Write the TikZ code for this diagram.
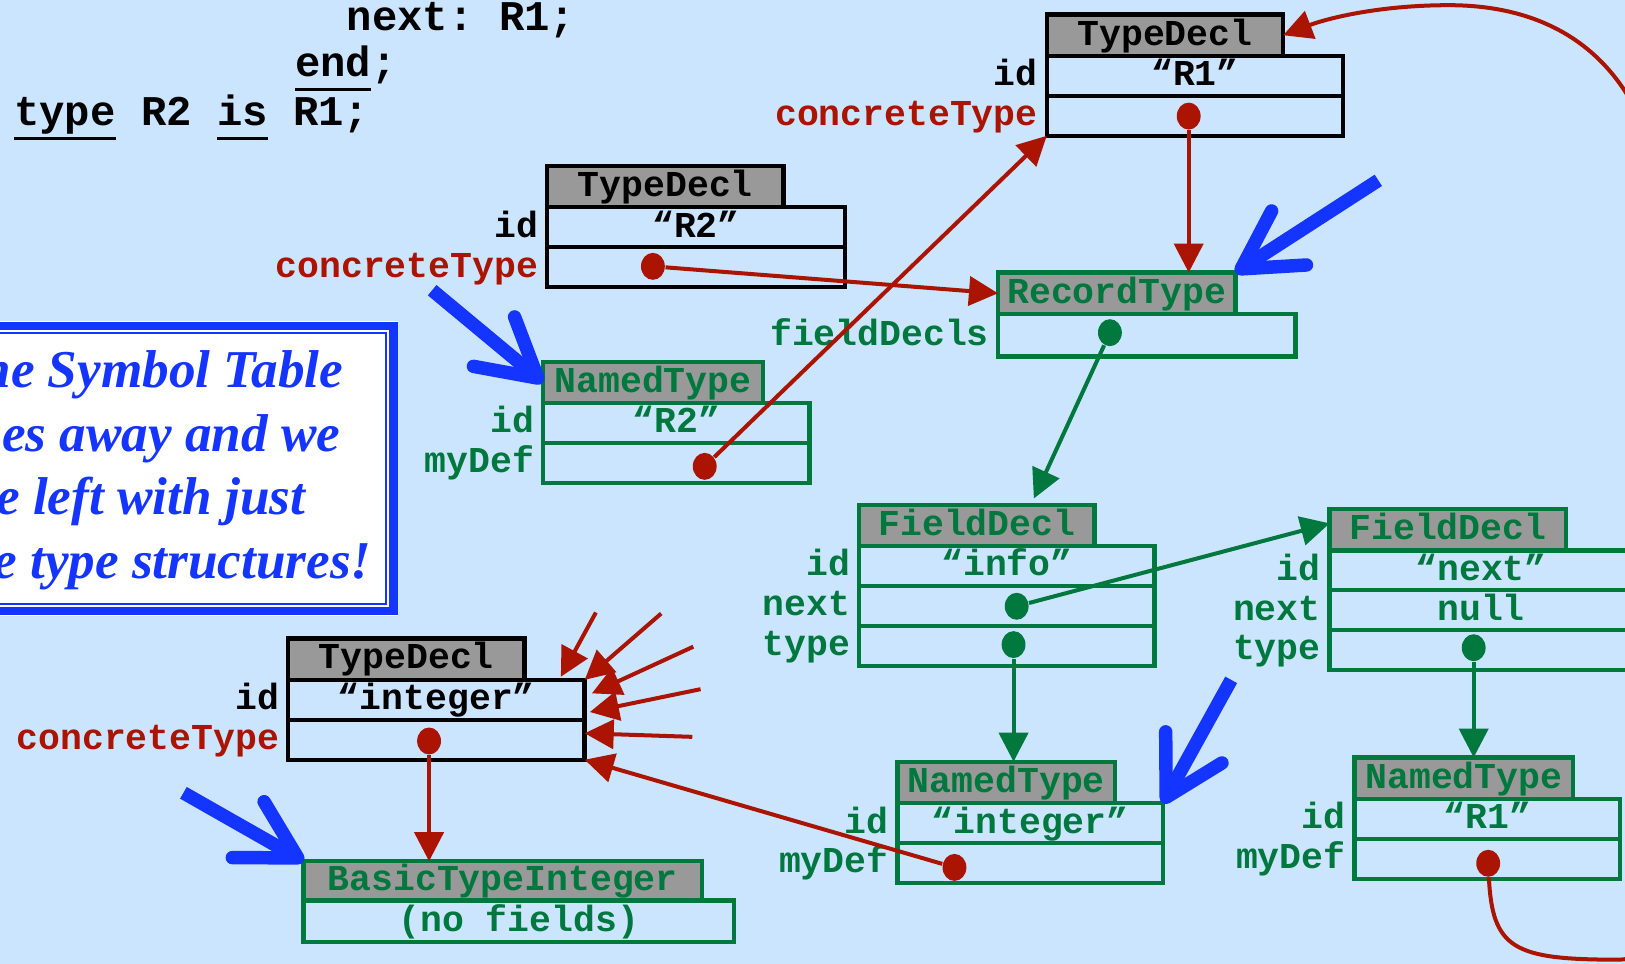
\documentclass[tikz,border=0pt]{standalone}
\usepackage{fontspec}
\setmainfont{Liberation Serif}
\setmonofont{Liberation Mono}
\usepackage{tikz}
\usetikzlibrary{arrows.meta,positioning,calc,shapes.geometric}

\definecolor{slidebg}{RGB}{204,229,255}
\definecolor{hdrgray}{RGB}{153,153,153}
\definecolor{linkred}{RGB}{170,20,0}
\definecolor{treegreen}{RGB}{0,120,62}
\definecolor{callblue}{RGB}{20,52,255}

\newcommand{\boxfont}{\ttfamily\bfseries\fontsize{10}{12}\selectfont}
\newcommand{\codefont}{\ttfamily\bfseries\fontsize{11.6}{13.5}\selectfont}
\newcommand{\notefont}{\rmfamily\bfseries\itshape\fontsize{14.6}{17.5}\selectfont}
\newcommand{\kw}[1]{\setbox0\hbox{#1}\rlap{\rule[-4pt]{\wd0}{0.9pt}}\box0\relax}

\begin{document}
\begin{tikzpicture}[
  x=0.01cm, y=-0.01cm,
  every node/.style={font=\boxfont, text height=7.4pt, text depth=2pt},
  hdr/.style={rectangle, draw=black, fill=hdrgray, line width=1.2pt, anchor=north west, minimum height=0.40cm, inner sep=0pt, outer sep=0pt},
  fld/.style={rectangle, draw=black, line width=1.2pt, anchor=north west, minimum height=0.385cm, inner sep=0pt, outer sep=0pt},
  ghdr/.style={hdr, draw=treegreen, text=treegreen},
  gfld/.style={fld, draw=treegreen, text=treegreen},
  lbl/.style={inner sep=0pt},
  glbl/.style={lbl, text=treegreen},
  rlbl/.style={lbl, text=linkred},
  rdot/.style={ellipse, fill=linkred, minimum width=0.23cm, minimum height=0.26cm, inner sep=0pt, text height=0pt, text depth=0pt},
  gdot/.style={rdot, fill=treegreen},
  redarr/.style={draw=linkred, line width=1.1pt, -{Triangle[length=0.28cm, width=0.28cm]}},
  greenarr/.style={redarr, draw=treegreen},
  bluearr/.style={draw=callblue, line width=0.13cm, -{Straight Barb[round, length=0.55cm, width=0.62cm]}},
  code/.style={font=\codefont, anchor=base west, inner sep=0pt},
  note/.style={font=\notefont, text=callblue, anchor=base west, inner sep=0pt}
]
  \useasboundingbox (0,0) rectangle (1568,930);
  \clip (0,0) rectangle (1568,930);
  \fill[slidebg] (0,0) rectangle (1568,930);

  % source text
  \node[code] (codea) at (334,29) {next: R1;};
  \node[code] (codeb) at (284,74) {\kw{end};};
  \node[code] (codec) at (13,121.5) {\kw{type} R2 \kw{is} R1;};

  % callout
  \fill[white] (-100,310) rectangle (384,594);
  \draw[callblue, line width=0.085cm] (-100,314.5) rectangle (380,589.5);
  \draw[callblue, line width=0.02cm] (-100,321) rectangle (372.5,582.5);
  \foreach \txt [count=\i] in {The Symbol Table, goes away and we, are left with just, the type structures!}
    \node[note] (note\i) at (-50,{374+61.3*(\i-1)}) {\txt};

  % TypeDecl R1
  \node[hdr, minimum width=2.28cm] (tdr1) at (1010,14) {TypeDecl};
  \node[fld, minimum width=2.86cm] (tdr1id) at (tdr1.south west) {“R1”};
  \node[fld, minimum width=2.86cm] (tdr1ct) at (tdr1id.south west) {};
  \node[lbl, left=2.3pt of tdr1id] {id};
  \node[rlbl, left=2.3pt of tdr1ct] {concreteType};

  % TypeDecl R2
  \node[hdr, minimum width=2.28cm] (tdr2) at (528,160) {TypeDecl};
  \node[fld, minimum width=2.87cm] (tdr2id) at (tdr2.south west) {“R2”};
  \node[fld, minimum width=2.87cm] (tdr2ct) at (tdr2id.south west) {};
  \node[lbl, left=2.3pt of tdr2id] {id};
  \node[rlbl, left=2.3pt of tdr2ct] {concreteType};

  % RecordType
  \node[ghdr, minimum width=2.29cm] (rec) at (963,263) {RecordType};
  \node[gfld, minimum width=2.87cm, minimum height=0.41cm] (recfd) at (rec.south west) {};
  \node[glbl, left=2.3pt of recfd] {fieldDecls};

  % NamedType R2
  \node[ghdr, minimum width=2.12cm] (nt2) at (524,349) {NamedType};
  \node[gfld, minimum width=2.57cm] (nt2id) at (nt2.south west) {“R2”};
  \node[gfld, minimum width=2.57cm] (nt2def) at (nt2id.south west) {};
  \node[glbl, left=2.3pt of nt2id] {id};
  \node[glbl, left=2.3pt of nt2def] {myDef};

  % FieldDecl info
  \node[ghdr, minimum width=2.27cm] (fdi) at (829,487) {FieldDecl};
  \node[gfld, minimum width=2.85cm] (fdiid) at (fdi.south west) {“info”};
  \node[gfld, minimum width=2.85cm] (fdinx) at (fdiid.south west) {};
  \node[gfld, minimum width=2.85cm] (fdity) at (fdinx.south west) {};
  \node[glbl, left=2.3pt of fdiid] {id};
  \node[glbl, left=2.3pt of fdinx] {next};
  \node[glbl, left=2.3pt of fdity] {type};

  % FieldDecl next
  \node[ghdr, minimum width=2.28cm] (fdn) at (1283,491) {FieldDecl};
  \node[gfld, minimum width=2.92cm] (fdnid) at (fdn.south west) {“next”};
  \node[gfld, minimum width=2.92cm] (fdnnx) at (fdnid.south west) {null};
  \node[gfld, minimum width=2.92cm] (fdnty) at (fdnnx.south west) {};
  \node[glbl, left=2.3pt of fdnid] {id};
  \node[glbl, left=2.3pt of fdnnx] {next};
  \node[glbl, left=2.3pt of fdnty] {type};

  % TypeDecl integer
  \node[hdr, minimum width=2.28cm] (tdint) at (278,616) {TypeDecl};
  \node[fld, minimum width=2.86cm] (tdintid) at (tdint.south west) {“integer”};
  \node[fld, minimum width=2.86cm] (tdintct) at (tdintid.south west) {};
  \node[lbl, left=2.3pt of tdintid] {id};
  \node[rlbl, left=2.3pt of tdintct] {concreteType};

  % BasicTypeInteger
  \node[ghdr, minimum width=3.84cm, minimum height=0.38cm] (bti) at (293,831) {BasicTypeInteger};
  \node[gfld, minimum width=4.15cm, minimum height=0.40cm] (btirow) at (bti.south west) {(no fields)};

  % NamedType integer
  \node[ghdr, minimum width=2.10cm] (ntint) at (866,735) {NamedType};
  \node[gfld, minimum width=2.56cm] (ntintid) at (ntint.south west) {“integer”};
  \node[gfld, minimum width=2.56cm] (ntintdef) at (ntintid.south west) {};
  \node[glbl, left=2.3pt of ntintid] {id};
  \node[glbl, left=2.3pt of ntintdef] {myDef};

  % NamedType R1
  \node[ghdr, minimum width=2.11cm] (nt1) at (1307,731) {NamedType};
  \node[gfld, minimum width=2.56cm] (nt1id) at (nt1.south west) {“R1”};
  \node[gfld, minimum width=2.56cm] (nt1def) at (nt1id.south west) {};
  \node[glbl, left=2.3pt of nt1id] {id};
  \node[glbl, left=2.3pt of nt1def] {myDef};

  % pointer dots
  \node[rdot] (ptr1) at (1147,112) {};
  \node[rdot] (ptr2) at (630,257) {};
  \node[gdot] (ptrfd) at (1071,321) {};
  \node[rdot] (ptrn2) at (680,450) {};
  \node[gdot] (ptrnx) at (981,585) {};
  \node[gdot] (ptrty) at (978,622) {};
  \node[gdot] (ptrty2) at (1422,625) {};
  \node[rdot] (ptrint) at (414,715) {};
  \node[rdot] (ptrnint) at (921,837) {};
  \node[rdot] (ptrn1) at (1436,833) {};

  % red links
  \draw[redarr] (ptr1) -- (ptr1 |- rec.north);
  \draw[redarr] (ptr2) -- (rec.west);
  \draw[redarr] (ptrn2) -- (tdr1ct.south west);
  \draw[redarr] (ptrint) -- (ptrint |- bti.north);
  \draw[redarr] (ptrnint) -- (tdintct.south east);
  \draw[redarr] (ptrn1) .. controls (1440,915) and (1460,926) .. (1560,926)
    .. controls (1760,926) and (1620,170) .. (1568,88)
    .. controls (1530,30) and (1470,5) .. (1398,5)
    .. controls (1330,5) and (1280,18) .. (tdr1.east);

  % other users of integer
  \coordinate (use1) at (575,591);
  \coordinate (use2) at (638,592);
  \coordinate (use3) at (669,624);
  \coordinate (use4) at (676,665);
  \coordinate (use5) at (668,711);
  \draw[redarr] (use1) -- ([xshift=-0.23cm, yshift=0.03cm]tdintid.north east);
  \draw[redarr] (use2) -- (tdintid.north east);
  \draw[redarr] (use3) -- ([xshift=0.07cm, yshift=-0.13cm]tdintid.north east);
  \draw[redarr] (use4) -- ([xshift=0.05cm, yshift=-0.31cm]tdintid.north east);
  \draw[redarr] (use5) -- ([yshift=-0.13cm]tdintct.north east);

  % green links
  \draw[greenarr] (ptrfd) -- ([xshift=0.55cm, yshift=0.06cm]fdi.north);
  \draw[greenarr] (ptrnx) -- ([yshift=0.06cm]fdn.west);
  \draw[greenarr] (ptrty) -- (ptrty |- ntint.north);
  \draw[greenarr] (ptrty2) -- (ptrty2 |- nt1.north);

  % blue pointers
  \coordinate (bp1) at (1330,174);
  \coordinate (bp2) at (417,280);
  \coordinate (bp3) at (1188,656);
  \coordinate (bp4) at (177,765);
  \draw[bluearr] (bp1) -- (rec.north east);
  \draw[bluearr] (bp2) -- (nt2.west);
  \draw[bluearr] (bp3) -- (ntintid.north east);
  \draw[bluearr] (bp4) -- (bti.north west);
\end{tikzpicture}
\end{document}
